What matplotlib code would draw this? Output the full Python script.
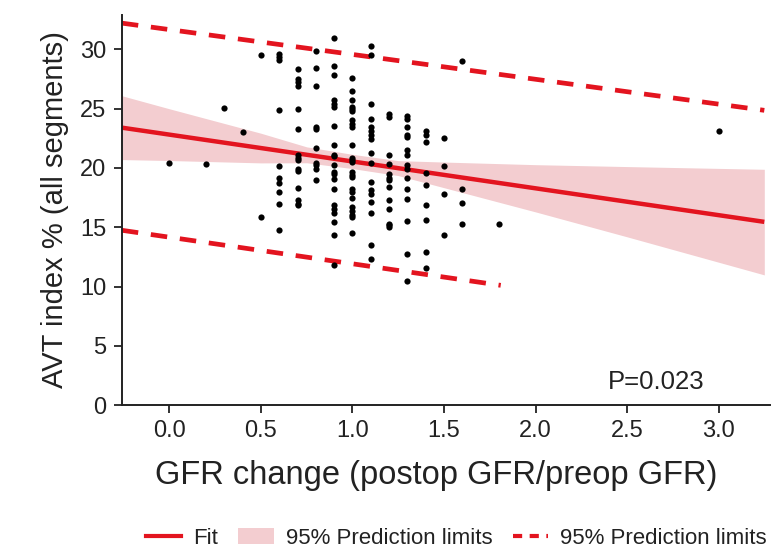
import matplotlib
matplotlib.use("Agg")
import matplotlib.pyplot as plt
from matplotlib.lines import Line2D
from matplotlib.patches import Patch
import numpy as np

plt.rcParams['font.family'] = ['Liberation Sans', 'DejaVu Sans']

RED = '#e3141f'
PINK = '#f3cdd0'
TXT = '#222222'

# scatter data, read column by column (GFR change, AVT index %)
gfr_x = ([0.0, 0.2, 0.3, 0.4]
         + [0.5] * 2
         + [0.6] * 10
         + [0.7] * 15
         + [0.8] * 10
         + [0.9] * 21
         + [1.0] * 24
         + [1.1] * 17
         + [1.2] * 13
         + [1.3] * 15
         + [1.4] * 9
         + [1.5] * 4
         + [1.6] * 4
         + [1.8, 3.0])
avt_y = ([20.45, 20.36, 25.05, 23.0]
         + [29.55, 15.9]
         + [29.63, 29.34, 29.12, 24.91, 20.16, 19.15, 18.75, 17.95, 16.99, 14.78]
         + [28.37, 27.52, 27.24, 26.90, 25.0, 23.25, 21.12, 20.83, 20.64, 19.94,
            19.74, 18.34, 17.27, 16.99, 16.85]
         + [29.85, 28.42, 26.90, 23.45, 23.25, 21.68, 20.45, 20.22, 19.88, 18.96]
         + [30.98, 28.59, 27.86, 25.69, 25.42, 25.13, 23.53, 21.96, 21.12, 21.0,
            20.28, 19.66, 19.46, 19.04, 18.20, 16.85, 16.57, 16.23, 15.44, 14.32, 11.79]
         + [27.61, 26.45, 25.69, 25.13, 25.0, 24.77, 24.01, 23.73, 23.45, 21.90,
            20.83, 20.64, 20.50, 19.66, 19.44, 19.23, 18.20, 17.97, 17.46, 16.71,
            16.34, 16.06, 15.86, 14.55]
         + [30.24, 29.55, 25.42, 24.15, 23.45, 23.08, 22.75, 22.41, 21.26, 20.41,
            18.81, 18.11, 17.83, 17.13, 16.23, 13.48, 12.36]
         + [24.57, 24.29, 21.12, 20.36, 19.52, 19.15, 18.96, 18.39, 17.27, 16.57,
            15.31, 15.16, 15.02]
         + [24.37, 24.15, 23.45, 22.81, 22.61, 21.48, 21.12, 20.22, 19.94, 19.15,
            18.26, 17.35, 15.50, 12.78, 10.45]
         + [23.08, 22.81, 22.18, 19.60, 18.53, 16.85, 15.59, 12.92, 11.57]
         + [22.52, 20.16, 17.83, 14.32]
         + [28.98, 18.26, 17.08, 15.31]
         + [15.31, 23.11])

# fit line
fit_x = [-0.26, 3.25]
fit_y = [23.39, 15.45]

# confidence band
band_x = [-0.26, 0.0, 0.5, 0.75, 1.0, 1.25, 1.5, 2.0, 2.5, 3.25]
band_hi = [26.08, 24.98, 22.92, 21.77, 21.14, 20.61, 20.49, 20.27, 20.11, 19.88]
band_lo = [20.70, 20.62, 20.42, 20.43, 19.94, 19.35, 18.33, 16.29, 14.19, 10.98]

# prediction limits
pred_hi_x = [-0.26, 3.25]
pred_hi_y = [32.2, 24.85]
pred_lo_x = [-0.26, 1.81]
pred_lo_y = [14.74, 10.1]

fig = plt.figure(figsize=(7.76, 5.49), dpi=100)
ax = fig.add_axes([0.157, 0.262, 0.835, 0.711])

ax.fill_between(band_x, band_lo, band_hi, color=PINK, lw=0, zorder=1)
ax.plot(fit_x, fit_y, color=RED, lw=3.2, solid_capstyle='butt', zorder=2)
for xs, ys in [(pred_hi_x, pred_hi_y), (pred_lo_x, pred_lo_y)]:
    ax.plot(xs, ys, color=RED, lw=3.4, dashes=(3.5, 2.7),
            dash_capstyle='butt', zorder=2)
ax.scatter(gfr_x, avt_y, s=20, color='black', lw=0, zorder=3)

ax.set_xlim(-0.26, 3.28)
ax.set_ylim(0, 32.9)
ax.set_xticks(np.arange(0, 3.01, 0.5))
ax.set_xticklabels([f"{v:.1f}" for v in np.arange(0, 3.01, 0.5)])
ax.set_yticks(range(0, 31, 5))

for s in ['top', 'right']:
    ax.spines[s].set_visible(False)
for s in ['left', 'bottom']:
    ax.spines[s].set_linewidth(1.4)
    ax.spines[s].set_color('#222222')
ax.tick_params(length=6, width=1.3, labelsize=17, colors=TXT, pad=5)

ax.set_xlabel("GFR change (postop GFR/preop GFR)", fontsize=23.5, color=TXT, labelpad=6)
ax.xaxis.set_label_coords(0.485, -0.14)
ax.set_ylabel("AVT index % (all segments)", fontsize=21, color=TXT, labelpad=8)

ax.text(0.824, 0.059, "P=0.023", transform=ax.transAxes, fontsize=18.5,
        color=TXT, ha='center', va='center')

handles = [
    Line2D([], [], color=RED, lw=3),
    Patch(facecolor=PINK, edgecolor='none'),
    Line2D([], [], color=RED, lw=3, dashes=(2.2, 1.8), dash_capstyle='butt'),
]
labels = ["Fit", "95% Prediction limits", "95% Prediction limits"]
fig.legend(handles, labels, loc='center', bbox_to_anchor=(0.588, 0.02),
           ncol=3, frameon=False, fontsize=16, handlelength=1.6,
           handletextpad=0.55, columnspacing=0.9, labelcolor=TXT)

fig.savefig("out.png", dpi=100)
